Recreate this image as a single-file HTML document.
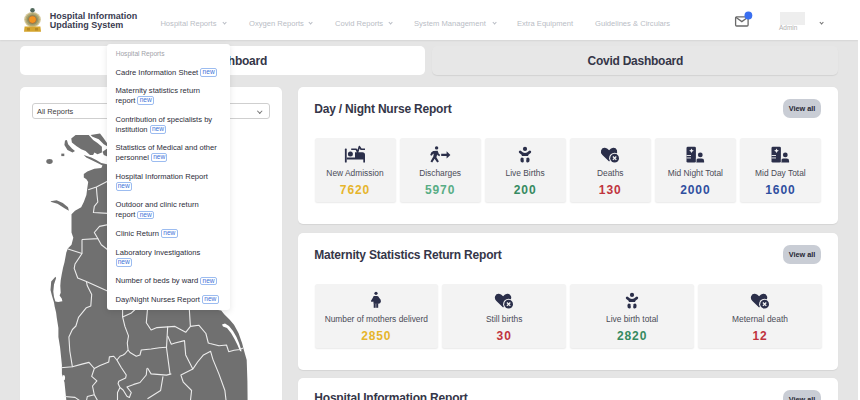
<!DOCTYPE html>
<html><head><meta charset="utf-8">
<style>
*{box-sizing:border-box;margin:0;padding:0}
html,body{width:860px;height:400px;overflow:hidden;background:#fff}
body{font-family:"Liberation Sans",sans-serif;position:relative}
.page{position:absolute;left:0;top:0;width:858px;height:400px;background:#e5e5e5;overflow:hidden}
.hdr{position:absolute;left:0;top:0;width:858px;height:40px;background:#fff;box-shadow:0 1px 1.5px rgba(0,0,0,.07)}
.abs{position:absolute;white-space:nowrap}
.brand{left:49.7px;top:12.2px;font-size:9px;font-weight:bold;line-height:8.8px;color:#3a3b4f}
.nav{top:19px;font-size:7.6px;color:#b9bdc5;line-height:9px}
.chev{position:absolute;width:3.2px;height:3.2px;border-right:0.9px solid #b9bdc5;border-bottom:0.9px solid #b9bdc5;transform:rotate(45deg)}
.tab1{left:20px;top:46px;width:405px;height:28.5px;background:#fff;border-radius:5px}
.tab2{left:432px;top:45.5px;width:406px;height:29px;background:#e7e7e7;border-radius:5px;box-shadow:0 1px 1px rgba(0,0,0,.08)}
.tabt{font-size:12px;font-weight:bold;color:#353648;line-height:14px;letter-spacing:-0.25px}
.card{position:absolute;background:#fff;border-radius:5px;box-shadow:0 0.5px 1px rgba(0,0,0,.07)}
.ctitle{font-size:12px;font-weight:bold;color:#353648;letter-spacing:-0.2px;line-height:14px}
.btn{position:absolute;left:485px;width:38px;height:18.5px;border-radius:7px;background:#c9cdd5;font-size:7.3px;font-weight:bold;color:#252633;text-align:center;line-height:20px}
.box{position:absolute;background:#f3f3f3;border-radius:2.5px;box-shadow:0 1px 1.5px rgba(0,0,0,.09);text-align:center}
.box svg{position:absolute}
.lbl{position:absolute;left:0;right:0;top:30px;font-size:8.4px;color:#4a4b57;line-height:10px}
.num{position:absolute;left:0;right:0;top:45px;font-size:12px;font-weight:bold;line-height:14px;letter-spacing:0.9px}
.dd{position:absolute;left:107px;top:44px;width:123px;height:266px;background:#fff;border-radius:3px;box-shadow:0 2px 6px rgba(0,0,0,.10)}
.dd .h{position:absolute;left:8.7px;top:5.6px;font-size:6.6px;color:#a0a2a8;line-height:8px}
.it{position:absolute;left:8.5px;width:112px;font-size:7.6px;color:#2c2d3a;line-height:9.9px;white-space:normal}
.new{display:inline-block;font-size:6.6px;color:#3d72d8;border:0.6px solid #9cbcf0;border-radius:2px;padding:0 1.2px;line-height:6.6px;vertical-align:0.6px}
</style></head><body>
<svg width="0" height="0" style="position:absolute">
<defs>
<symbol id="i-bed" viewBox="0 0 30 25"><g fill="#2b2f4a">
<rect x="4.9" y="6.6" width="1.8" height="14" rx="0.6"/>
<circle cx="10.4" cy="12.1" r="2.5"/>
<path d="M15 10.2 H22.4 A2.6 2.6 0 0 1 25 12.8 V20.6 H23.3 V17.4 H6.7 V15.5 H15 Z"/>
</g><path d="M11.2 7.3 H16.3 L17.6 10.2 L19.4 4.6 L21.1 7.3 H25" fill="none" stroke="#2b2f4a" stroke-width="1.6" stroke-linejoin="round"/></symbol>
<symbol id="i-walk" viewBox="0 0 30 25"><g fill="#2b2f4a">
<circle cx="11.6" cy="5.9" r="1.7"/>
<path d="M8.2 9 L12.6 8.8 L13.9 11.9 L15.2 12.8 L14.4 14.2 L12.6 13.3 L12.2 12.6 L11.4 15.2 L13.9 19.6 L12.2 20.5 L9.6 16.7 L7.2 20.6 L5.5 19.6 L8.3 14.6 L8.8 11.5 L7.5 12.4 L6.7 13.7 L5.2 13 L6.2 10.4 Z"/>
<path d="M16.2 11.8 H21.6 V9.2 L25.4 12.9 L21.6 16.6 V14 H16.2 Z"/>
</g></symbol>
<symbol id="i-baby" viewBox="0 0 30 25"><g fill="#2b2f4a">
<circle cx="15" cy="6.9" r="2.1"/>
<path d="M9.1 9.1 Q10.2 8.1 11.1 9.1 Q13 11 15 11 Q17 11 18.9 9.1 Q19.8 8.1 20.9 9.1 Q21.7 10 20.7 11 Q19.3 12.3 18.2 12.9 V13.9 H11.8 V12.9 Q10.7 12.3 9.3 11 Q8.3 10 9.1 9.1 Z"/>
<path d="M11.2 15.7 Q13.4 15.2 14 17.2 L13.2 17.8 L14 18.7 Q13.6 20.8 12.1 20.6 Q10.3 20.2 10.4 17.8 Q10.5 16 11.2 15.7 Z"/>
<path d="M18.8 15.7 Q16.6 15.2 16 17.2 L16.8 17.8 L16 18.7 Q16.4 20.8 17.9 20.6 Q19.7 20.2 19.6 17.8 Q19.5 16 18.8 15.7 Z"/>
</g></symbol>
<symbol id="i-heart" viewBox="0 0 30 25">
<path fill="#2b2f4a" d="M14.1 19.5 L7.4 13 Q5.2 10.8 6.1 8.2 Q7.2 5.6 9.9 5.8 Q12.2 6 14.1 8.2 Q15.9 6 18.2 5.8 Q20.9 5.6 22 8.2 Q22.9 10.8 20.7 13 Z"/>
<circle cx="19.6" cy="16.2" r="5.5" fill="#f3f3f3"/>
<circle cx="19.6" cy="16.2" r="4.4" fill="#2b2f4a"/>
<path d="M17.9 14.5 L21.3 17.9 M21.3 14.5 L17.9 17.9" stroke="#f3f3f3" stroke-width="1.3"/>
</symbol>
<symbol id="i-hosp" viewBox="0 0 30 25"><g fill="#2b2f4a">
<rect x="6.5" y="4.7" width="9.4" height="15.9" rx="1.4"/>
<circle cx="20.3" cy="12.9" r="2.4"/>
<path d="M15.9 20.6 V19 Q15.9 16.6 18.3 16.6 H21.7 Q24.1 16.6 24.1 19 V20.6 Z"/>
</g>
<path fill="#f3f3f3" d="M11.5 6.4 Q11.9 8.3 13.9 8.75 Q11.9 9.2 11.5 11.1 Q11.1 9.2 9.1 8.75 Q11.1 8.3 11.5 6.4Z"/>
<rect x="6.5" y="13" width="4.5" height="0.9" fill="#f3f3f3"/>
<rect x="6.5" y="15.5" width="4.5" height="0.9" fill="#f3f3f3"/>
<rect x="15.9" y="16.2" width="0.6" height="4.4" fill="#f3f3f3"/>
</symbol>
<symbol id="i-preg" viewBox="0 0 30 25"><g fill="#2b2f4a" transform="translate(0.9,0)">
<circle cx="14.1" cy="5.3" r="1.6"/>
<path d="M12 8 H15.2 Q16.6 8.2 17.4 10.1 Q19.4 11.7 19 13.8 Q18.6 15.8 16.4 15.8 H11.8 L11.4 13.4 L9.8 14.1 L9 13.1 L11.1 9.6 Q11.4 8.2 12 8 Z"/>
<rect x="11.8" y="15.3" width="2" height="4.5"/>
<rect x="14.3" y="15.3" width="2" height="4.5"/>
</g></symbol>
</defs></svg>
<div class="page">
  <div class="hdr">
    <svg class="abs" style="left:23px;top:7px" width="20" height="26" viewBox="0 0 20 26">
      <ellipse cx="9.5" cy="12.6" rx="8.4" ry="7.6" fill="#d6c99c"/>
      <ellipse cx="9.5" cy="12.6" rx="7.2" ry="6.6" fill="#b3a872"/>
      <ellipse cx="9.5" cy="12.6" rx="5.6" ry="5.2" fill="#8e9566"/>
      <circle cx="9.5" cy="12.6" r="4.2" fill="#a8703c"/>
      <circle cx="9.5" cy="12.6" r="3.3" fill="#f29320"/>
      <circle cx="9.5" cy="3.2" r="2.3" fill="#52695c"/>
      <path d="M1.6 19.6 H17.4 L18 24.8 H1 Z" fill="#d5a52e"/>
      <path d="M4 21 h3 v2.5 h-3z M12 21 h3 v2.5 h-3z" fill="#b88a22"/>
    </svg>
    <div class="abs brand">Hospital Information<br>Updating System</div>
    <div class="abs nav" style="left:160.4px">Hospital Reports</div><div class="chev" style="left:223px;top:21px"></div>
    <div class="abs nav" style="left:249px">Oxygen Reports</div><div class="chev" style="left:309px;top:21px"></div>
    <div class="abs nav" style="left:335px">Covid Reports</div><div class="chev" style="left:389px;top:21px"></div>
    <div class="abs nav" style="left:414px">System Management</div><div class="chev" style="left:493px;top:21px"></div>
    <div class="abs nav" style="left:517px">Extra Equipment</div>
    <div class="abs nav" style="left:595px">Guidelines &amp; Circulars</div>
    <svg class="abs" style="left:733px;top:10px" width="20" height="18" viewBox="0 0 20 18">
      <rect x="2.6" y="6.8" width="12.5" height="9.2" rx="1" fill="none" stroke="#6a6a6a" stroke-width="1.3"/>
      <path d="M2.8 7.3 L8.85 11.6 L14.9 7.3" fill="none" stroke="#6a6a6a" stroke-width="1.3"/>
      <circle cx="15.4" cy="5.5" r="3.9" fill="#3a6ff0"/>
    </svg>
    <div class="abs" style="left:780px;top:12px;width:25px;height:12.5px;background:#eeeeee"></div>
    <div class="abs" style="left:779px;top:24px;font-size:6.5px;color:#b0b0b0;line-height:8px">Admin</div>
    <div class="chev" style="left:820.3px;top:21px;border-color:#707070"></div>
  </div>

  <div class="abs tab1"><div class="abs tabt" style="right:158px;top:8.2px">Main Dashboard</div></div>
  <div class="abs tab2"><div class="abs tabt" style="left:155.5px;top:8.7px">Covid Dashboard</div></div>

  <div class="card" style="left:20px;top:87px;width:262px;height:330px">
    <div class="abs" style="left:12.3px;top:16.2px;width:237.5px;height:15.4px;border:1px solid #cfcfcf;border-radius:3px"></div>
    <div class="abs" style="left:17px;top:19.6px;font-size:7.4px;color:#3c3c3c;line-height:9px">All Reports</div>
    <div class="chev" style="left:238px;top:21.5px;border-color:#777;width:3.5px;height:3.5px"></div>
    <svg class="abs" style="left:0;top:0" width="262" height="330" viewBox="20 87 262 330">
<g fill="#707070"><path d="M83.75,155 L91.25,157.4 L96.25,160 L101.25,163 L107,164.25 L150,165 L215,250 L215,309.5 L221.2,310.5 L224.2,314.2 L229.5,319.5 L234,324.7 L238.5,333 L242.2,343.5 L243.7,349.5 L246.7,360 L247.4,381 L247.8,420 L66.3,420 L66.3,400 L64.5,382.5 L61.9,373.8 L61.9,365 L60.1,347.5 L58.4,337 L58.4,328 L56.8,318 L56.1,312.4 L54.7,306.8 L54,302.6 L51.9,295.6 L50.5,290 L51.2,281.6 L55.4,276.7 L56.1,278.1 L54,284.4 L53.3,291.4 L54,297 L55.4,301.5 L58.2,302 L62.4,301.2 L61.7,298.4 L59.6,295.6 L60.7,292.8 L60.3,285.8 L60.7,280.2 L61.7,274.6 L63.1,267.6 L64.5,262.3 L66.3,252.6 L68,248.3 L71.5,244.8 L73.3,237.8 L71.5,232.5 L71.5,222 L71.5,214.3 L75,210.8 L81.2,207.3 L83.8,202 L86.4,195 L87.3,188 L88.2,181.9 L86.4,179.3 L83.8,177.5 L83.8,174 L87.3,171.4 L94.3,168.75 L101.3,167.9 L102.5,165.5 L95,161.75 L86.25,157.6 Z"/><path d="M71.25,138.6 L75.6,134.9 L88.75,134.9 L93.1,139.9 L97.5,143 L101.9,146.75 L101.9,152.4 L97.5,154.25 L94.4,152.4 L93.1,154.9 L90,154.9 L85.6,151.1 L81.25,149.25 L76.25,146.1 L71.9,142.4 Z"/><path d="M90.6,134.9 L100,133.6 L103.1,137.4 L107,143 L108,146.75 L103.75,144.25 L98.75,139.25 L92.5,136.75 Z"/><path d="M102.5,151.75 L108,148 L108,156.75 L103.75,154.9 Z"/><path d="M65,140.5 L66.9,139.9 L68.1,144.25 L71.9,148.6 L75,151.1 L72.5,152.4 L67.5,149.9 L64.4,144.9 Z"/><path d="M50.5,201.2 L56.6,200.3 L62.8,202.9 L68,207.3 L68.9,210.8 L64.5,208.2 L57.5,203.8 L51.4,202 Z"/><ellipse cx="49.5" cy="161.5" rx="3.2" ry="2.4"/><rect x="61.3" y="153.6" width="3" height="2.5"/></g><g fill="#fff"><path d="M222,324.5 L225,323.5 L229,326 L233,331 L236.5,337 L239,343 L241,349 L241.5,351.5 L240,351 L237.5,345 L234.5,339 L231,333 L227,328 L223,326.5 Z"/><ellipse cx="63.7" cy="377.7" rx="1.4" ry="2.8"/></g><g fill="none" stroke="#ececec" stroke-width="1.1" stroke-linejoin="round"><path d="M88.2,189.8 L96.4,187.1 L108,181"/><path d="M96.4,187.1 L97,195 L97.8,202 L94.3,206.4 L93.4,212.5 L108,213.4"/><path d="M82,239.5 L97.8,238.6 L94.3,232.5 L99.5,226.4 L108,224.6"/><path d="M97.8,238.6 L101.3,244.8 L108,250"/><path d="M68,249.1 L82,253.5"/><path d="M82,239.5 L82,253.5 L75,264 L74.2,268.4 L77.7,278 L86.4,281.5 L108,291.2"/><path d="M86.4,281.5 L87.3,285.8 L91.7,294.5 L90.8,306 L86.4,307.7 L78.5,317.3 L75.9,326 L72.4,329.5 L68.9,337 L69.8,351 L72.4,366.8 L61,367.7"/><path d="M72.4,366.8 L82,364.1 L89,362.4 L94.3,368.5 L100,365.6 L108.75,361.9 L109.4,356.9 L113.75,356.25 L116.9,360 L120,356.25 L123.1,355 L125,353.75 L128.1,350"/><path d="M94.3,368.5 L91.7,376.4 L96.9,380.8 L92.5,386 L94.3,394.8 L87.3,396.5 L86.4,401"/><path d="M64.5,396.5 L75,397.4 L80.3,401"/><path d="M94.3,394.8 L97.8,401"/><path d="M122.6,309 L122.6,316.9 L124.9,326.4 L128.5,335.9 L127.3,343 L128.1,350 L130,352.5 L136.25,356.25 L140,355 L141.25,350 L151.1,349 L159.4,347.8 L166.5,347.3"/><path d="M116.9,360 L121.25,367.5 L126.25,375 L125.6,378.1 L118.75,381.25 L118.1,383.75 L120,387.5 L117.5,392.5 L117.5,401"/><path d="M147.5,368 L151.1,373.9 L166.5,375.1 L171.3,373.9"/><path d="M147.5,368 L146.9,368.75 L146.25,375 L140,382.5 L133.75,384.4 L126.9,386.9 L131.25,392.5 L129.4,397.5 L126.9,396.25 L123.1,390 L120,387.5"/><path d="M163,376.3 L160.6,390.5 L147.5,398.8"/><path d="M167.7,326.4 L166.5,347.8 L170,373.9"/><path d="M147.5,309 L146.3,322.8 L151.1,330 L157,327.6 L175,326.4 L185.7,332.3 L190.4,326.4 L189.3,309"/><path d="M167.7,335.9 L171.3,344.2 L175,343 L184.5,340.6 L185.7,354.9 L192.8,369.1 L197.6,362 L203.5,354.9 L210.6,351.3 L213,359.6 L218.9,373.9 L224.9,390.5 L226.1,401"/><path d="M190.4,326.4 L198.8,325.2 L205.9,333.5 L208.3,343 L210,343.5 L219,345.7 L226.5,345 L228.7,351.7 L234,350.2 L240,349.5 L243,348"/><path d="M192.8,369.1 L180.9,375.1 L183.3,382.2 L191.6,390.5 L190.4,401"/><path d="M122.6,316.9 L130.9,313.3 L135.6,309"/></g>
    </svg>
  </div>

  <div class="card" style="left:298px;top:87px;width:540px;height:137px">
    <div class="abs ctitle" style="left:16.3px;top:14.5px">Day / Night Nurse Report</div>
    <div class="btn" style="top:12px">View all</div>
    <div class="box" style="left:16.50px;top:51px;width:81.00px;height:64px"><svg style="left:25.50px;top:4px" width="30" height="25"><use href="#i-bed"/></svg><div class="lbl">New Admission</div><div class="num" style="color:#e6b52c">7620</div></div><div class="box" style="left:101.58px;top:51px;width:81.00px;height:64px"><svg style="left:25.50px;top:4px" width="30" height="25"><use href="#i-walk"/></svg><div class="lbl">Discharges</div><div class="num" style="color:#58ad85">5970</div></div><div class="box" style="left:186.66px;top:51px;width:81.00px;height:64px"><svg style="left:25.50px;top:4px" width="30" height="25"><use href="#i-baby"/></svg><div class="lbl">Live Births</div><div class="num" style="color:#368a60">200</div></div><div class="box" style="left:271.74px;top:51px;width:81.00px;height:64px"><svg style="left:25.50px;top:4px" width="30" height="25"><use href="#i-heart"/></svg><div class="lbl">Deaths</div><div class="num" style="color:#c0343e">130</div></div><div class="box" style="left:356.82px;top:51px;width:81.00px;height:64px"><svg style="left:25.50px;top:4px" width="30" height="25"><use href="#i-hosp"/></svg><div class="lbl">Mid Night Total</div><div class="num" style="color:#2f4f9f">2000</div></div><div class="box" style="left:441.90px;top:51px;width:81.00px;height:64px"><svg style="left:25.50px;top:4px" width="30" height="25"><use href="#i-hosp"/></svg><div class="lbl">Mid Day Total</div><div class="num" style="color:#2f4f9f">1600</div></div>
  </div>
  <div class="card" style="left:298px;top:233px;width:540px;height:137px">
    <div class="abs ctitle" style="left:16.3px;top:14.5px">Maternity Statistics Return Report</div>
    <div class="btn" style="top:12px">View all</div>
    <div class="box" style="left:16.50px;top:51px;width:123.60px;height:64px"><svg style="left:46.80px;top:4px" width="30" height="25"><use href="#i-preg"/></svg><div class="lbl">Number of mothers deliverd</div><div class="num" style="color:#e6b52c">2850</div></div><div class="box" style="left:144.40px;top:51px;width:123.60px;height:64px"><svg style="left:46.80px;top:4px" width="30" height="25"><use href="#i-heart"/></svg><div class="lbl">Still births</div><div class="num" style="color:#c0343e">30</div></div><div class="box" style="left:272.30px;top:51px;width:123.60px;height:64px"><svg style="left:46.80px;top:4px" width="30" height="25"><use href="#i-baby"/></svg><div class="lbl">Live birth total</div><div class="num" style="color:#368a60">2820</div></div><div class="box" style="left:400.20px;top:51px;width:123.60px;height:64px"><svg style="left:46.80px;top:4px" width="30" height="25"><use href="#i-heart"/></svg><div class="lbl">Meternal death</div><div class="num" style="color:#c0343e">12</div></div>
  </div>
  <div class="card" style="left:298px;top:378px;width:540px;height:136px">
    <div class="abs ctitle" style="left:16.3px;top:12.5px">Hospital Information Report</div>
    <div class="btn" style="top:12px">View all</div>
  </div>

  <div class="dd">
    <div class="h">Hospital Reports</div>
<div class="it" style="top:23.60px">Cadre Information Sheet <span class="new">new</span></div>
<div class="it" style="top:42.10px">Maternity statistics return<br>report <span class="new">new</span></div>
<div class="it" style="top:70.70px">Contribution of specialists by<br>institution <span class="new">new</span></div>
<div class="it" style="top:99.00px">Statistics of Medical and other<br>personnel <span class="new">new</span></div>
<div class="it" style="top:127.60px">Hospital Information Report<br><span class="new">new</span></div>
<div class="it" style="top:156.30px">Outdoor and clinic return<br>report <span class="new">new</span></div>
<div class="it" style="top:185.00px">Clinic Return <span class="new">new</span></div>
<div class="it" style="top:203.60px">Laboratory Investigations<br><span class="new">new</span></div>
<div class="it" style="top:232.30px">Number of beds by ward <span class="new">new</span></div>
<div class="it" style="top:250.60px">Day/Night Nurses Report <span class="new">new</span></div>
  </div>
</div>
</body></html>
